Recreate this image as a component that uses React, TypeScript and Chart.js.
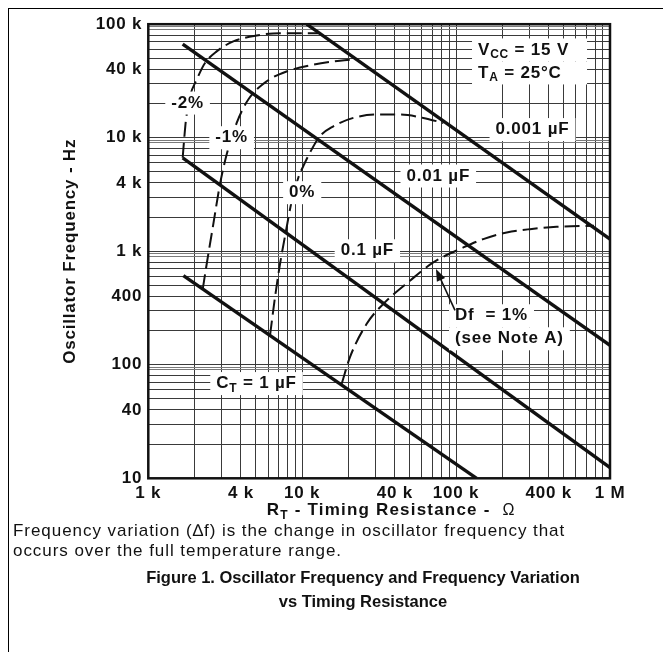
import React, { useEffect, useRef } from 'react';
import { Chart, registerables } from 'chart.js';

Chart.register(...registerables);

const FONT = '"Liberation Sans", Arial, Helvetica, sans-serif';

// ---- axis ticks / grid ----
const xTickValues = [1e3, 4e3, 1e4, 4e4, 1e5, 4e5, 1e6];
const xTickLabels = ['1 k', '4 k', '10 k', '40 k', '100 k', '400 k', '1 M'];
const yTickValues = [10, 40, 100, 400, 1e3, 4e3, 1e4, 4e4, 1e5];
const yTickLabels = ['10', '40', '100', '400', '1 k', '4 k', '10 k', '40 k', '100 k'];
const xDecades = [1e3, 1e4, 1e5];
const yDecades = [10, 100, 1e3, 1e4];
const xGridSteps = [1, 2, 3, 4, 5, 6, 7, 8, 9];
const yGridSteps = [1, 2, 3, 4, 5, 6, 7, 8, 9, 9.5];

// ---- timing capacitor lines (R_T in ohm, f in Hz) ----
const ct1uF_R = [1690, 136000];
const ct1uF_F = [610, 10];
const ct01uF_R = [1673, 1000000];
const ct01uF_F = [6660, 12.4];
const ct001uF_R = [1673, 1000000];
const ct001uF_F = [66800, 148];
const ct0001uF_R = [10700, 1000000];
const ct0001uF_F = [100000, 1280];

// ---- frequency variation curves ----
const dfMinus2_R = [1673, 1706, 1758, 1866, 2063, 2336, 2782, 3567, 5063, 7175, 12670];
const dfMinus2_F = [6660, 9330, 14500, 23200, 32500, 45500, 57600, 70500, 79600, 83400, 83400];
const dfMinus1_R = [2257, 2396, 2645, 2923, 3232, 3753, 4465, 5880, 7930, 11810, 17600, 22600];
const dfMinus1_F = [462, 772, 1733, 3890, 7136, 13500, 21700, 31400, 38400, 44000, 47700, 49300];
const df0_R = [6177, 6657, 7175, 7849, 8551, 9434, 10170, 11530, 13050, 15930, 21480, 30500, 43200, 61200, 82600];
const df0_F = [181, 393, 772, 1514, 2776, 4445, 5630, 7897, 10330, 12600, 14950, 16000, 16000, 14950, 13500];
const dfPlus1_R = [18060, 20440, 26250, 33650, 50200, 71100, 111400, 150200, 213200, 302000, 450000, 787000];
const dfPlus1_F = [68, 116.8, 229.5, 343.9, 550.8, 797.5, 1080, 1280, 1463, 1566, 1641, 1675];

// ---- in-plot notes (anchored in data units) ----
const noteTexts = [
  ['V_{CC} = 15 V', 'T_{A} = 25°C'],
  ['0.001 µF'],
  ['0.01 µF'],
  ['0.1 µF'],
  ['C_{T} = 1 µF'],
  ['-2%'],
  ['-1%'],
  ['0%'],
  ['Df  = 1%', '(see Note A)'],
];
const noteR = [138800, 313600, 76600, 26500, 5050, 1800, 3480, 10000, 98400];
const noteF = [47000, 11800, 4600, 1010, 68.3, 20200, 10000, 3280, 214];
const noteAlign = ['left', 'center', 'center', 'center', 'center', 'center', 'center', 'center', 'left'];
const arrowFrom = [98400, 301];
const arrowTo = [74000, 698];

const xTitle = 'R_{T} - Timing Resistance -  ~{Ω}';
const yTitle = 'Oscillator Frequency - Hz';

const toPts = (R: number[], F: number[]) => R.map((r, i) => ({ x: r, y: F[i] }));
const gridOf = (decades: number[], steps: number[], last: number) => [
  ...decades.flatMap((d) => steps.map((s) => d * s)),
  last,
];
const labelOf = (vals: number[], labels: string[], v: number) => {
  const i = vals.findIndex((t) => Math.abs(t - v) / t < 1e-6);
  return i >= 0 ? labels[i] : '';
};

type Part = { s: string; sub: boolean; normal: boolean };
function parseRich(t: string): Part[] {
  const parts: Part[] = [];
  const re = /([_~])\{([^}]*)\}/g;
  let last = 0;
  let m: RegExpExecArray | null;
  while ((m = re.exec(t))) {
    if (m.index > last) parts.push({ s: t.slice(last, m.index), sub: false, normal: false });
    parts.push({ s: m[2], sub: m[1] === '_', normal: m[1] === '~' });
    last = re.lastIndex;
  }
  if (last < t.length) parts.push({ s: t.slice(last), sub: false, normal: false });
  return parts;
}
const MAIN = `bold 17px ${FONT}`;
const SUB = `bold 12px ${FONT}`;
const NORM = `16px ${FONT}`;
const fontOf = (p: Part) => (p.sub ? SUB : p.normal ? NORM : MAIN);
function richWidth(ctx: CanvasRenderingContext2D, t: string) {
  let w = 0;
  for (const p of parseRich(t)) {
    ctx.font = fontOf(p);
    w += ctx.measureText(p.s).width;
  }
  return w;
}
function drawRich(ctx: CanvasRenderingContext2D, t: string, x: number, y: number) {
  let cx = x;
  ctx.textAlign = 'left';
  ctx.textBaseline = 'middle';
  for (const p of parseRich(t)) {
    ctx.font = fontOf(p);
    ctx.fillText(p.s, cx, p.sub ? y + 5 : y);
    cx += ctx.measureText(p.s).width;
  }
}

const notesPlugin = {
  id: 'notes',
  beforeDraw(chart: any) {
    chart.ctx.letterSpacing = '0.8px';
  },
  afterDatasetsDraw(chart: any) {
    const { ctx, chartArea: a } = chart;
    const xs = chart.scales.x;
    const ys = chart.scales.y;
    ctx.save();
    ctx.letterSpacing = '0.8px';
    const lh = 23;
    noteTexts.forEach((lines, k) => {
      const px = xs.getPixelForValue(noteR[k]);
      const py = ys.getPixelForValue(noteF[k]);
      const widths = lines.map((t) => richWidth(ctx, t));
      const maxW = Math.max(...widths);
      const top = py - (lh * lines.length) / 2;
      lines.forEach((t, i) => {
        const left = noteAlign[k] === 'left' ? px : px - widths[i] / 2;
        const bw = k === 0 ? maxW + 12 : widths[i];
        ctx.fillStyle = '#fff';
        ctx.fillRect(left - 6, top + lh * i, bw + 12, lh);
      });
      ctx.fillStyle = '#111';
      lines.forEach((t, i) => {
        const left = noteAlign[k] === 'left' ? px : px - widths[i] / 2;
        drawRich(ctx, t, left, top + lh * (i + 0.5));
      });
    });
    // arrow
    const x1 = xs.getPixelForValue(arrowFrom[0]);
    const y1 = ys.getPixelForValue(arrowFrom[1]);
    const x2 = xs.getPixelForValue(arrowTo[0]);
    const y2 = ys.getPixelForValue(arrowTo[1]);
    const ang = Math.atan2(y2 - y1, x2 - x1);
    ctx.strokeStyle = '#111';
    ctx.fillStyle = '#111';
    ctx.lineWidth = 1.6;
    ctx.beginPath();
    ctx.moveTo(x1, y1);
    ctx.lineTo(x2 - 8 * Math.cos(ang), y2 - 8 * Math.sin(ang));
    ctx.stroke();
    ctx.beginPath();
    ctx.moveTo(x2, y2);
    ctx.lineTo(x2 - 12 * Math.cos(ang) + 4.5 * Math.sin(ang), y2 - 12 * Math.sin(ang) - 4.5 * Math.cos(ang));
    ctx.lineTo(x2 - 12 * Math.cos(ang) - 4.5 * Math.sin(ang), y2 - 12 * Math.sin(ang) + 4.5 * Math.cos(ang));
    ctx.closePath();
    ctx.fill();
    // frame
    ctx.strokeStyle = '#111';
    ctx.lineWidth = 2.5;
    ctx.strokeRect(a.left, a.top, a.right - a.left, a.bottom - a.top);
    // axis titles
    ctx.fillStyle = '#111';
    ctx.letterSpacing = '1.2px';
    const tw = richWidth(ctx, xTitle);
    drawRich(ctx, xTitle, (a.left + a.right) / 2 + 12 - tw / 2, a.bottom + 32);
    ctx.letterSpacing = '0.8px';
    ctx.translate(a.left - 78, (a.top + a.bottom) / 2);
    ctx.rotate(-Math.PI / 2);
    ctx.font = MAIN;
    ctx.textAlign = 'center';
    ctx.textBaseline = 'middle';
    ctx.fillText(yTitle, 0, 0);
    ctx.restore();
  },
  afterDraw(chart: any) {
    chart.ctx.letterSpacing = '0px';
  },
};

const solid = (label: string, R: number[], F: number[]) => ({
  label,
  data: toPts(R, F),
  showLine: true,
  borderColor: '#111',
  borderWidth: 3.4,
  pointRadius: 0,
  fill: false,
});
const dashed = (label: string, R: number[], F: number[]) => ({
  label,
  data: toPts(R, F),
  showLine: true,
  borderColor: '#111',
  borderWidth: 2,
  borderDash: [15, 6],
  pointRadius: 0,
  fill: false,
  cubicInterpolationMode: 'monotone' as const,
});

const CANVAS_H = 540;

export default function App() {
  const ref = useRef<HTMLCanvasElement>(null);
  useEffect(() => {
    const xGrid = gridOf(xDecades, xGridSteps, xTickValues[xTickValues.length - 1]);
    const yGrid = gridOf(yDecades, yGridSteps, yTickValues[yTickValues.length - 1]);
    const chart = new Chart(ref.current as HTMLCanvasElement, {
      type: 'scatter',
      data: {
        datasets: [
          solid('1 µF', ct1uF_R, ct1uF_F),
          solid('0.1 µF', ct01uF_R, ct01uF_F),
          solid('0.01 µF', ct001uF_R, ct001uF_F),
          solid('0.001 µF', ct0001uF_R, ct0001uF_F),
          dashed('-2%', dfMinus2_R, dfMinus2_F),
          dashed('-1%', dfMinus1_R, dfMinus1_F),
          dashed('0%', df0_R, df0_F),
          dashed('1%', dfPlus1_R, dfPlus1_F),
        ] as any,
      },
      options: {
        animation: false,
        responsive: false,
        devicePixelRatio: 1,
        layout: { padding: { left: 0, top: 14.7, right: 61, bottom: 0 } },
        plugins: { legend: { display: false }, tooltip: { enabled: false } },
        scales: {
          x: {
            type: 'logarithmic',
            min: 1e3,
            max: 1e6,
            afterBuildTicks: (s: any) => {
              s.ticks = xGrid.map((v) => ({ value: v }));
            },
            afterFit: (s: any) => {
              s.height = CANVAS_H - 470.3;
            },
            ticks: {
              autoSkip: false,
              maxRotation: 0,
              minRotation: 0,
              padding: 5,
              color: '#111',
              font: { family: FONT, size: 17, weight: 'bold' },
              callback: (v: any) => labelOf(xTickValues, xTickLabels, Number(v)),
            },
            grid: {
              drawTicks: false,
              color: '#3a3a3a',
              lineWidth: 1,
            },
            border: { display: false },
          },
          y: {
            type: 'logarithmic',
            min: 10,
            max: 1e5,
            afterBuildTicks: (s: any) => {
              s.ticks = yGrid.map((v) => ({ value: v }));
            },
            afterFit: (s: any) => {
              s.width = 140.3;
            },
            ticks: {
              autoSkip: false,
              padding: 6,
              color: '#111',
              font: { family: FONT, size: 17, weight: 'bold' },
              callback: (v: any) => labelOf(yTickValues, yTickLabels, Number(v)),
            },
            grid: {
              drawTicks: false,
              color: (c: any) => {
                const v = c.tick ? c.tick.value : 0;
                const m = v / Math.pow(10, Math.floor(Math.log10(v) + 1e-9));
                return m > 8.5 ? '#7a7a7a' : '#3a3a3a';
              },
              lineWidth: 1,
            },
            border: { display: false },
          },
        },
      } as any,
      plugins: [notesPlugin as any],
    });
    return () => chart.destroy();
  }, []);

  const cap: React.CSSProperties = {
    position: 'absolute',
    whiteSpace: 'nowrap',
    fontSize: '17px',
    lineHeight: '20px',
    letterSpacing: '0.95px',
    color: '#111',
  };
  const fig: React.CSSProperties = {
    ...cap,
    left: 0,
    width: 710,
    textAlign: 'center',
    fontWeight: 'bold',
    fontSize: '16.5px',
    letterSpacing: '0px',
  };
  return (
    <div style={{ position: 'relative', width: 663, height: 644, fontFamily: FONT }}>
      <div
        style={{
          position: 'absolute',
          left: 0,
          top: 0,
          width: 663,
          height: 644,
          borderTop: '1.5px solid #000',
          borderLeft: '1.5px solid #000',
          boxSizing: 'border-box',
        }}
      />
      <canvas
        ref={ref}
        width={663}
        height={CANVAS_H}
        style={{ position: 'absolute', left: 0, top: 0, width: 663, height: CANVAS_H }}
      />
      <div style={{ ...cap, left: 5, top: 513 }}>
        Frequency variation (∆f) is the change in oscillator frequency that
      </div>
      <div style={{ ...cap, left: 5, top: 533 }}>occurs over the full temperature range.</div>
      <div style={{ ...fig, top: 559 }}>Figure 1. Oscillator Frequency and Frequency Variation</div>
      <div style={{ ...fig, top: 583 }}>vs Timing Resistance</div>
    </div>
  );
}
